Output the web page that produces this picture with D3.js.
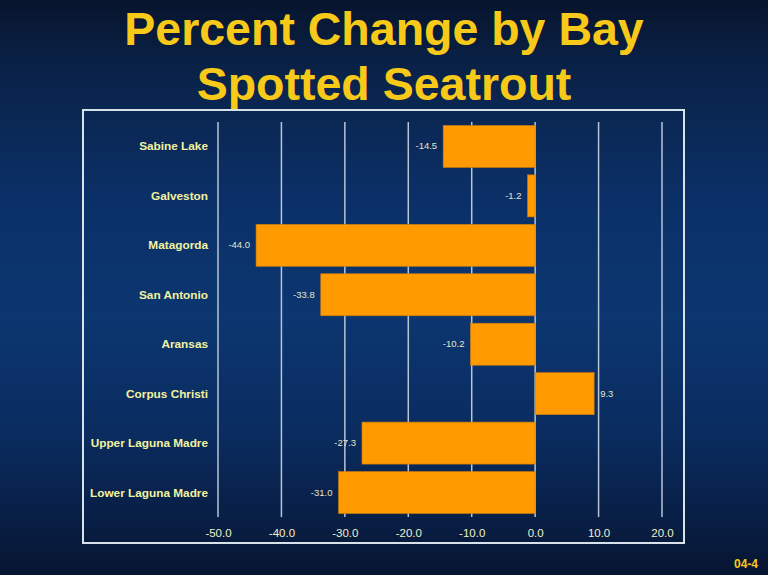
<!DOCTYPE html>
<html><head><meta charset="utf-8">
<script src="https://cdn.jsdelivr.net/npm/d3@7"></script>
<style>body{margin:0;padding:0;overflow:hidden;background:#0a2a5c}svg{display:block}</style>
</head><body>
<script>
const categories = ["Sabine Lake","Galveston","Matagorda","San Antonio","Aransas","Corpus Christi","Upper Laguna Madre","Lower Laguna Madre"];
const values = [-14.5,-1.2,-44.0,-33.8,-10.2,9.3,-27.3,-31.0];
const xTicks = [-50,-40,-30,-20,-10,0,10,20];
const titleLines = ["Percent Change by Bay","Spotted Seatrout"];
const slideNumber = "04-4";

const W=768,H=575;
const fmt=d=>d.toFixed(1);
const svg=d3.select("body").append("svg").attr("width",W).attr("height",H);
const defs=svg.append("defs");
const g=defs.append("linearGradient").attr("id","bg").attr("x1",0).attr("y1",0).attr("x2",0).attr("y2",1);
[[0,"#07142c"],[0.12,"#0a2248"],[0.35,"#0b3068"],[0.55,"#0c3670"],[0.75,"#0a2c60"],[0.92,"#081d42"],[1,"#071530"]].forEach(s=>g.append("stop").attr("offset",s[0]).attr("stop-color",s[1]));
svg.append("rect").attr("width",W).attr("height",H).attr("fill","url(#bg)");

// title
svg.selectAll("text.title").data(titleLines).join("text").attr("class","title")
 .attr("x",384).attr("y",(d,i)=>[45,100][i]).attr("text-anchor","middle")
 .attr("font-family","Liberation Sans, Arial, sans-serif").attr("font-weight","bold")
 .attr("font-size",46.5).attr("fill","#f7c919").text(d=>d);

// chart box
svg.append("rect").attr("x",83).attr("y",110).attr("width",601).attr("height",433)
 .attr("fill","none").attr("stroke","#d8e2ea").attr("stroke-width",2);

const x=d3.scaleLinear().domain([-50,20]).range([218,662]);
const y=d3.scaleBand().domain(categories).range([122,517]).paddingInner(0.15).paddingOuter(0.07);

// gridlines
svg.append("g").selectAll("line").data(xTicks).join("line")
 .attr("x1",d=>x(d)).attr("x2",d=>x(d)).attr("y1",122).attr("y2",517)
 .attr("stroke","#b8c4d4").attr("stroke-width",1.5);

// bars
svg.append("g").selectAll("rect").data(values).join("rect")
 .attr("x",d=>x(Math.min(0,d))).attr("width",d=>Math.abs(x(d)-x(0)))
 .attr("y",(d,i)=>y(categories[i])).attr("height",y.bandwidth())
 .attr("fill","#ff9a00").attr("stroke","#c87a10").attr("stroke-width",0.6);

// value labels
svg.append("g").selectAll("text").data(values).join("text")
 .attr("x",d=>d<0?x(d)-6:x(d)+6).attr("y",(d,i)=>y(categories[i])+y.bandwidth()/2+3)
 .attr("text-anchor",d=>d<0?"end":"start")
 .attr("font-family","Liberation Sans, Arial, sans-serif").attr("font-size",9.5)
 .attr("fill","#e6e6cc").text(fmt);

// category labels
svg.append("g").selectAll("text").data(categories).join("text")
 .attr("x",208).attr("y",d=>y(d)+y.bandwidth()/2+4).attr("text-anchor","end")
 .attr("font-family","Liberation Sans, Arial, sans-serif").attr("font-weight","bold").attr("font-size",11.8)
 .attr("fill","#f2f2a0").text(d=>d);

// x axis tick labels
const ax=svg.append("g").attr("transform","translate(0,521)")
 .call(d3.axisBottom(x).tickValues(xTicks).tickSize(0).tickPadding(8).tickFormat(fmt));
ax.select(".domain").remove();
ax.selectAll("text").attr("font-family","Liberation Sans, Arial, sans-serif").attr("font-size",11.5).attr("fill","#f0f0c8");

svg.append("text").attr("x",758).attr("y",568).attr("text-anchor","end")
 .attr("font-family","Liberation Sans, Arial, sans-serif").attr("font-weight","bold").attr("font-size",12)
 .attr("fill","#f7c919").text(slideNumber);
</script>
</body></html>
